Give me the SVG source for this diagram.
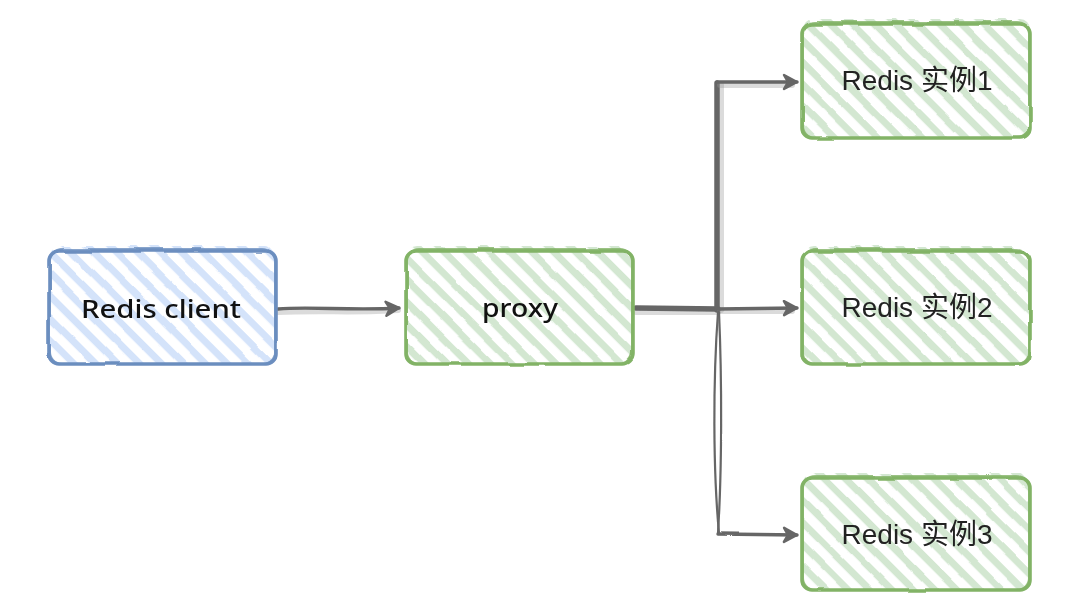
<svg xmlns="http://www.w3.org/2000/svg" width="1067" height="604" viewBox="0 0 1067 604">
<style>
.blueFill{fill:url(#hBlue);}
.greenFill{fill:url(#hGreen);}
.blueLine{fill:none;stroke:#6c8ebf;stroke-width:3.6;}
.greenLine{fill:none;stroke:#82b366;stroke-width:3.6;}
.thin{stroke-width:2;opacity:0.8;}
.lbl{font-family:"Liberation Sans",Arial,"Noto Sans CJK SC",sans-serif;font-size:28px;fill:#222;text-anchor:middle;}
.hand{font-family:"Comic Sans MS","Noto Sans","DejaVu Sans",sans-serif;font-size:26px;font-weight:500;fill:#111;text-anchor:middle;}
.conn{fill:none;stroke:#666;stroke-width:3.4;stroke-linecap:round;stroke-linejoin:round;}
.halo{fill:none;stroke:#999;stroke-width:6;opacity:0.35;stroke-linecap:round;}
.thick{stroke-width:5.5;}
</style>
<defs>
<pattern id="hBlue" patternUnits="userSpaceOnUse" width="15.5" height="15.5" patternTransform="rotate(45)">
<rect x="0" y="0" width="15.5" height="7" fill="#d4e3fa"/>
</pattern>
<pattern id="hGreen" patternUnits="userSpaceOnUse" width="15.5" height="15.5" patternTransform="rotate(45)">
<rect x="0" y="0" width="15.5" height="7" fill="#d3e7d1"/>
</pattern>
<filter id="rough" filterUnits="userSpaceOnUse" x="0" y="0" width="1067" height="604">
<feTurbulence type="fractalNoise" baseFrequency="0.03" numOctaves="2" seed="4" result="n"/>
<feDisplacementMap in="SourceGraphic" in2="n" scale="3" xChannelSelector="R" yChannelSelector="G"/>
</filter>
<filter id="roughL" filterUnits="userSpaceOnUse" x="0" y="0" width="1067" height="604">
<feTurbulence type="fractalNoise" baseFrequency="0.02" numOctaves="1" seed="7" result="n"/>
<feDisplacementMap in="SourceGraphic" in2="n" scale="2" xChannelSelector="R" yChannelSelector="G"/>
</filter>
<marker id="arr" markerUnits="userSpaceOnUse" markerWidth="20" markerHeight="20" refX="15" refY="9" orient="auto">
<path d="M2,2 L15,9 L2,16 L6,9 Z" fill="#666" stroke="#666" stroke-width="2.5" stroke-linejoin="round"/>
</marker>
</defs>
<rect width="1067" height="604" fill="#ffffff"/>

<g id="connectors" filter="url(#roughL)">
<path class="halo" d="M278,312 C320,310 360,313 398,310"/>
<path class="conn" d="M278,309 C310,306 350,311 399,308" marker-end="url(#arr)"/>
<path class="halo" d="M636,312 L718,312"/>
<path class="conn thick" d="M636,308 L718,309"/>
<path class="halo" d="M721,310 L721,85"/>
<path class="conn thick" d="M717,310 L717,83"/>
<path class="halo" d="M720,85 L792,85"/>
<path class="conn" d="M717,82 L797,82" marker-end="url(#arr)"/>
<path class="halo" d="M720,311 L792,311"/>
<path class="conn" d="M718,309 L797,308" marker-end="url(#arr)"/>
<path class="conn" style="stroke-width:2.2" d="M718,312 C713,380 713,470 719,533"/>
<path class="conn" style="stroke-width:2.2" d="M719,312 C722,380 722,470 718,533"/>
<path class="conn" d="M718,534 L797,535" marker-end="url(#arr)"/>
</g>

<g id="client">
<g filter="url(#rough)">
<rect class="blueFill" x="50" y="246" width="226" height="117" rx="10"/>
<rect class="blueLine" x="49" y="251" width="227" height="113" rx="10"/>
<rect class="blueLine thin" x="50" y="249" width="225" height="115" rx="12"/>
</g>
<text class="hand" x="161" y="318" textLength="160" lengthAdjust="spacingAndGlyphs">Redis client</text>
</g>

<g id="proxy">
<g filter="url(#rough)">
<rect class="greenFill" x="407" y="246" width="226" height="117" rx="10"/>
<rect class="greenLine" x="406" y="251" width="227" height="113" rx="10"/>
<rect class="greenLine thin" x="407" y="249" width="225" height="115" rx="12"/>
</g>
<text class="hand" x="520" y="317" textLength="76" lengthAdjust="spacingAndGlyphs">proxy</text>
</g>

<g id="redis1">
<g filter="url(#rough)">
<rect class="greenFill" x="803" y="19" width="227" height="119" rx="10"/>
<rect class="greenLine" x="802" y="24" width="228" height="114" rx="10"/>
<rect class="greenLine thin" x="803" y="22" width="226" height="116" rx="12"/>
</g>
<text class="lbl" x="917" y="90">Redis 实例1</text>
</g>

<g id="redis2">
<g filter="url(#rough)">
<rect class="greenFill" x="803" y="246" width="227" height="118" rx="10"/>
<rect class="greenLine" x="802" y="251" width="228" height="113" rx="10"/>
<rect class="greenLine thin" x="803" y="249" width="226" height="115" rx="12"/>
</g>
<text class="lbl" x="917" y="317">Redis 实例2</text>
</g>

<g id="redis3">
<g filter="url(#rough)">
<rect class="greenFill" x="803" y="473" width="227" height="117" rx="10"/>
<rect class="greenLine" x="802" y="478" width="228" height="112" rx="10"/>
<rect class="greenLine thin" x="803" y="476" width="226" height="114" rx="12"/>
</g>
<text class="lbl" x="917" y="544">Redis 实例3</text>
</g>
</svg>
